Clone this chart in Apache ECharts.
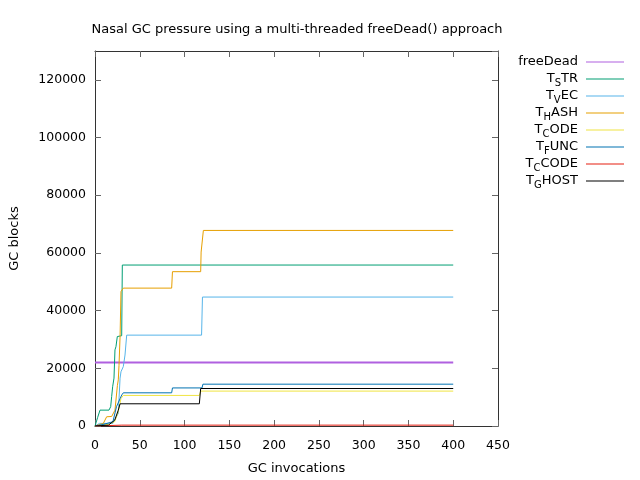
<!DOCTYPE html>
<html><head><meta charset="utf-8">
<script src="https://cdn.jsdelivr.net/npm/echarts@6/dist/echarts.min.js"></script>
<style>html,body{margin:0;padding:0;background:#fff}#c{width:640px;height:480px}</style>
</head><body><div id="c"></div>
<script>
var seriesNames = ['freeDead', 'TSTR', 'TVEC', 'THASH', 'TCODE', 'TFUNC', 'TCCODE', 'TGHOST'];
var legendMain = ['freeDead', 'T', 'T', 'T', 'T', 'T', 'T', 'T'];
var legendSub = ['', 'S', 'V', 'H', 'C', 'F', 'C', 'G'];
var legendRest = ['', 'TR', 'EC', 'ASH', 'ODE', 'UNC', 'CODE', 'HOST'];

var freeDeadX = [0, 400];
var freeDeadY = [22000, 22000];

var tstrX = [0, 3, 5.6, 15.6, 17.5, 18.6, 19.7, 21.2, 22.3, 23.4, 24.9, 29.8, 30.5, 400];
var tstrY = [0, 3000, 5500, 5500, 6700, 10200, 13600, 16600, 26400, 27500, 31000, 31300, 55800, 55800];

var tvecX = [0, 5, 20, 22, 26, 28, 29, 31.6, 33.5, 35.4, 119, 120, 400];
var tvecY = [0, 900, 900, 2100, 4400, 16600, 18800, 20600, 24600, 31500, 31500, 44700, 44700];

var thashX = [0, 9.3, 13, 18.6, 22.3, 25, 26, 26.8, 28, 29, 31.6, 85.6, 86.5, 118, 118.5, 119.1, 121, 400];
var thashY = [0, 900, 3200, 3300, 5500, 14000, 16000, 21000, 31000, 46600, 47800, 47800, 53500, 53500, 60300, 60300, 67800, 67800];

var tcodeX = [0, 15, 22, 26, 29, 31.6, 116.5, 118, 400];
var tcodeY = [0, 600, 1500, 5000, 9500, 10600, 10600, 12100, 12100];

var tfuncX = [0, 10, 20, 24, 28, 30, 31.6, 85.6, 86.5, 119.5, 120.5, 400];
var tfuncY = [0, 600, 1500, 6700, 9500, 10800, 11500, 11500, 13200, 13200, 14500, 14500];

var tccodeX = [0, 30, 400];
var tccodeY = [0, 300, 300];

var tghostX = [0, 15, 22, 26, 28, 116.5, 118, 400];
var tghostY = [0, 300, 2000, 5500, 7700, 7700, 13000, 13000];

var xTicks = [0, 50, 100, 150, 200, 250, 300, 350, 400, 450];
var yTicks = [0, 20000, 40000, 60000, 80000, 100000, 120000];

var colors = ['#b060e0', '#009e73', '#56b4e9', '#e69f00', '#f0e442', '#0072b2', '#e51e10', '#000000'];
var widths = [2, 1, 1, 1, 1, 1, 1, 1];

function pairs(xs, ys) { return xs.map(function (x, i) { return [x, ys[i]]; }); }
var allX = [freeDeadX, tstrX, tvecX, thashX, tcodeX, tfuncX, tccodeX, tghostX];
var allY = [freeDeadY, tstrY, tvecY, thashY, tcodeY, tfuncY, tccodeY, tghostY];

var FONT = 'DejaVu Sans';
var AX = '#333';
var TK = '#666';
function axisCommon(isX) {
  return {
    type: 'value',
    min: 0, max: isX ? 450 : 130000, interval: isX ? 50 : 20000,
    axisLine: { show: true, onZero: false, lineStyle: { color: AX, width: 1 } },
    axisTick: { show: true, inside: true, length: 6, lineStyle: { color: TK, width: 1 } },
    splitLine: { show: false }
  };
}
var xBottom = axisCommon(true);
xBottom.position = 'bottom';
xBottom.name = 'GC invocations';
xBottom.nameLocation = 'middle';
xBottom.nameGap = 36;
xBottom.nameTextStyle = { fontFamily: FONT, fontSize: 13, color: '#000' };
xBottom.axisLabel = { fontFamily: FONT, fontSize: 12.5, color: '#000', margin: 13,
  formatter: function (v) { return xTicks.indexOf(v) >= 0 ? String(v) : ''; } };
var xTop = axisCommon(true);
xTop.position = 'top';
xTop.axisLabel = { show: false };

var yLeft = axisCommon(false);
yLeft.position = 'left';
yLeft.name = 'GC blocks';
yLeft.nameLocation = 'middle';
yLeft.nameGap = 74;
yLeft.nameRotate = 90;
yLeft.nameTextStyle = { fontFamily: FONT, fontSize: 13, color: '#000' };
yLeft.axisLabel = { fontFamily: FONT, fontSize: 12.5, color: '#000', margin: 9, showMaxLabel: false,
  formatter: function (v) { return yTicks.indexOf(v) >= 0 ? String(v) : ''; } };
var yRight = axisCommon(false);
yRight.position = 'right';
yRight.axisLabel = { show: false };

var chart = echarts.init(document.getElementById('c'));
chart.setOption({
  animation: false,
  backgroundColor: '#fff',
  title: {
    text: 'Nasal GC pressure using a multi-threaded freeDead() approach',
    left: 292, top: 18, textAlign: 'center',
    textStyle: { fontFamily: FONT, fontSize: 13, fontWeight: 'normal', color: '#000' }
  },
  legend: {
    orient: 'vertical', right: 11, top: 50, align: 'right',
    itemWidth: 38, itemHeight: 10, itemGap: 1,
    icon: 'path://M0,4.5 L38,4.5 L38,5.5 L0,5.5 Z',
    data: seriesNames,
    formatter: function (name) {
      var i = seriesNames.indexOf(name);
      if (!legendSub[i]) return '{m|' + legendMain[i] + '}{s|\u200b}';
      return '{m|' + legendMain[i] + '}{s|' + legendSub[i] + '}{m|' + legendRest[i] + '}';
    },
    textStyle: {
      fontFamily: FONT, fontSize: 13, color: '#000', padding: [0, 3, 0, 0],
      rich: {
        m: { fontFamily: FONT, fontSize: 13, color: '#000', lineHeight: 14, verticalAlign: 'top' },
        s: { fontFamily: FONT, fontSize: 10, color: '#000', lineHeight: 9, verticalAlign: 'top', padding: [6, 0, 0, 0] }
      }
    }
  },
  grid: { left: 95, right: 142, top: 51, bottom: 54 },
  xAxis: [xBottom, xTop],
  yAxis: [yLeft, yRight],
  series: seriesNames.map(function (n, i) {
    return {
      name: n, type: 'line', showSymbol: false, symbol: 'none',
      xAxisIndex: 0, yAxisIndex: 0,
      data: pairs(allX[i], allY[i]),
      lineStyle: { color: colors[i], width: widths[i] },
      itemStyle: { color: colors[i] },
      z: i === 0 ? 1 : 2 + i
    };
  })
});
</script></body></html>
